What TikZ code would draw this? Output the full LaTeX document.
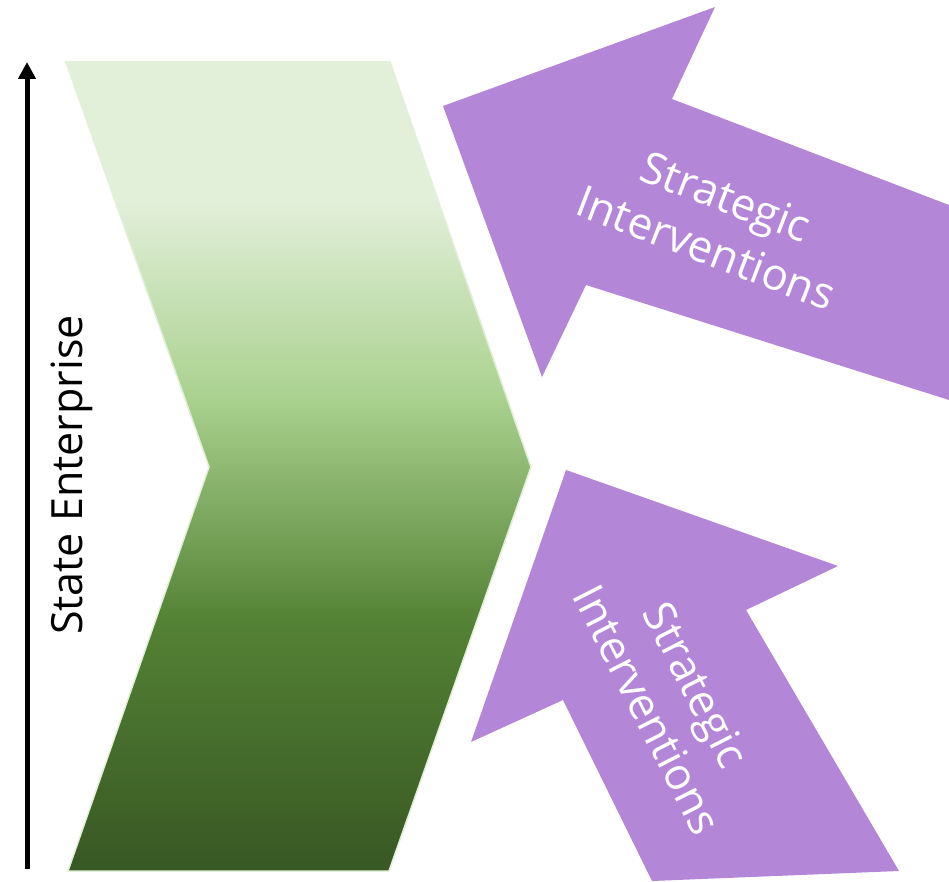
\documentclass[tikz,border=0pt]{standalone}
\usepackage{fontspec}
\setmainfont{Open Sans}
\usetikzlibrary{arrows.meta}
\definecolor{gA}{HTML}{E2EFD9}
\definecolor{gB}{HTML}{A9D18E}
\definecolor{gC}{HTML}{548235}
\definecolor{gD}{HTML}{375623}
\definecolor{purp}{HTML}{B486D8}
\tikzset{
  purparrow/.style={fill=purp, draw=none},
  arrowtext/.style={text=white, align=center, font=\fontsize{44}{55}\selectfont, inner sep=0pt},
  axistext/.style={text=black, font=\fontsize{43}{50}\selectfont, inner sep=0pt},
}
\begin{document}
\begin{tikzpicture}[x=1pt, y=-1pt]
\useasboundingbox (0,0) rectangle (949,882);
% chevron with gradient
\begin{scope}
\clip (66,62) -- (390,62) -- (531,467) -- (389,871) -- (68,871) -- (209,467) -- cycle;
\fill[gA] (60,55) rectangle (540,201);
\shade[top color=gA, bottom color=gB] (60,200) rectangle (540,401);
\shade[top color=gB, bottom color=gC] (60,400) rectangle (540,621);
\shade[top color=gC, bottom color=gD] (60,620) rectangle (540,880);
\end{scope}
\draw[gA, line width=1.5pt, line join=miter] (66,62) -- (390,62) -- (531,467) -- (389,871) -- (68,871) -- (209,467) -- cycle;
% vertical axis arrow
\coordinate (axb) at (27,869);
\coordinate (axt) at (27,62);
\draw[line width=5pt, -{Triangle[width=17pt,length=17pt]}] (axb) -- (axt);
\node[axistext, rotate=90] (se) at (72,475) {State Enterprise};
% upper arrow
\fill[purparrow] (443,106) -- (715,7) -- (672,99) -- (949,205) -- (949,400) -- (586,285) -- (542,377) -- cycle;
\node[arrowtext, rotate=-21] (si1) at (716,222) {Strategic\\Interventions};
% lower arrow
\fill[purparrow] (566,470) -- (838,566) -- (746,610) -- (899,871) -- (652,881) -- (563,700) -- (471,742) -- cycle;
\node[arrowtext, rotate=-63] (si2) at (672,697) {Strategic\\Interventions};
\end{tikzpicture}
\end{document}
